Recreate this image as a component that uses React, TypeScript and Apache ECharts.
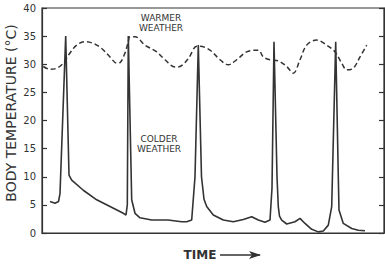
import React, { useEffect, useRef } from "react";
import * as echarts from "echarts";

// time (arbitrary units), body temperature (°C)
const colderTime = [8, 13, 16.5, 18, 23.7, 27, 29.7, 41.3, 54.7, 68, 81.3, 84, 85.3, 86.3, 89.7, 93, 98, 109.7, 126, 139.7, 144.7, 149.7, 153, 156.3, 159.5, 162, 164.7, 171.3, 181.3, 191.3, 201.3, 209.7, 216.3, 223, 228, 230, 232, 235, 236.3, 237.5, 239.7, 244.7, 253, 258, 263, 269.7, 276.3, 281.3, 286.3, 289.7, 293.7, 296.3, 297, 301.3, 309.7, 316.3, 323];
const colderTemp = [5.6, 5.3, 5.6, 7, 35, 10.3, 9.4, 7.6, 5.9, 4.7, 3.5, 3.2, 5, 35, 5.9, 3.5, 2.7, 2.3, 2.3, 2.0, 2.0, 2.3, 10, 33.4, 10, 6, 4.7, 3.2, 2.3, 2.0, 2.4, 2.9, 2.3, 1.9, 2.3, 8, 34, 10, 4.7, 3, 2.3, 1.6, 2.0, 2.6, 1.7, 0.65, 0.2, 0.35, 1.4, 4.7, 34, 10, 4.1, 1.7, 0.8, 0.5, 0.4];

const warmerTime = [1.3, 8, 14.7, 21.3, 28, 34.7, 43, 51.3, 59.7, 68, 74.7, 78, 83, 86.3, 88, 93, 103, 114.7, 123, 133, 138, 146.3, 154.7, 158, 168, 178, 186.3, 194.7, 204.7, 216.3, 221.3, 228, 236.3, 244.7, 251.3, 258, 264.7, 274.7, 284.7, 293, 299.7, 304.7, 311.3, 318, 324.7];
const warmerTemp = [29.6, 29.1, 29.3, 30.2, 32, 33.4, 34, 33.7, 32.8, 31.3, 30.2, 30.3, 32, 34, 34.9, 34.9, 33.4, 32.2, 30.8, 29.5, 29.6, 31, 33.2, 33.2, 32.5, 30.8, 29.9, 30.8, 32.2, 32.5, 31.3, 30.8, 30.6, 29.6, 28.4, 30.8, 33.4, 34.3, 33.4, 32.2, 30.2, 29, 29.3, 31.3, 33.4];

const yTicks = [0, 5, 10, 15, 20, 25, 30, 35, 40];
const yAxisTitle = "BODY TEMPERATURE (°C)";
const xAxisTitle = "TIME";
const warmerLabel = "WARMER\nWEATHER";
const colderLabel = "COLDER\nWEATHER";

const INK = "#333";
const FONT = "DejaVu Sans";

export default function App() {
  const ref = useRef<HTMLDivElement>(null);
  useEffect(() => {
    if (!ref.current) return;
    const chart = echarts.init(ref.current, undefined, { renderer: "svg" });
    const colder = colderTime.map((t, i) => [t, colderTemp[i]]);
    const warmer = warmerTime.map((t, i) => [t, warmerTemp[i]]);
    const yAxisBase = {
      type: "value" as const,
      min: yTicks[0],
      max: yTicks[yTicks.length - 1],
      interval: 5,
      axisLine: { show: true, lineStyle: { color: INK, width: 1.2 } },
      axisTick: { show: true, inside: true, length: 5, lineStyle: { color: INK, width: 1.2 } },
      splitLine: { show: false },
    };
    chart.setOption({
      animation: false,
      backgroundColor: "#fff",
      grid: { left: 42, right: 1, top: 8, bottom: 33, show: true, borderColor: INK, borderWidth: 1.2 },
      xAxis: {
        type: "value",
        min: 0,
        max: 342,
        axisLine: { show: true, lineStyle: { color: INK, width: 1.2 } },
        axisTick: { show: false },
        axisLabel: { show: false },
        splitLine: { show: false },
      },
      yAxis: [
        {
          ...yAxisBase,
          position: "left",
          axisLabel: { show: true, color: INK, fontFamily: FONT, fontSize: 10, margin: 6 },
        },
        {
          ...yAxisBase,
          position: "right",
          axisLabel: { show: false },
        },
      ],
      series: [
        {
          type: "line",
          data: colder,
          showSymbol: false,
          smooth: false,
          lineStyle: { color: INK, width: 1.6 },
          z: 3,
        },
        {
          type: "line",
          data: warmer,
          showSymbol: false,
          smooth: 0.35,
          lineStyle: { color: INK, width: 1.5, type: [5, 3] },
          z: 2,
        },
      ],
      graphic: [
        {
          type: "text",
          x: 11,
          y: 113,
          rotation: Math.PI / 2,
          style: {
            text: yAxisTitle,
            fill: INK,
            font: `14px ${FONT}`,
            align: "center",
            verticalAlign: "middle",
          },
        },
        {
          type: "text",
          x: 161,
          y: 23,
          style: {
            text: warmerLabel,
            fill: INK,
            font: `9px ${FONT}`,
            align: "center",
            verticalAlign: "middle",
            lineHeight: 10,
          },
        },
        {
          type: "text",
          x: 159,
          y: 144,
          style: {
            text: colderLabel,
            fill: INK,
            font: `9px ${FONT}`,
            align: "center",
            verticalAlign: "middle",
            lineHeight: 10.5,
          },
        },
        {
          type: "text",
          x: 200,
          y: 255,
          style: {
            text: xAxisTitle,
            fill: INK,
            font: `bold 12px ${FONT}`,
            align: "center",
            verticalAlign: "middle",
          },
        },
        {
          type: "line",
          shape: { x1: 220, y1: 255, x2: 260, y2: 255 },
          style: { stroke: INK, lineWidth: 1.3 },
        },
        {
          type: "polygon",
          shape: { points: [[261, 255], [249, 251], [252, 255], [249, 259]] },
          style: { fill: INK },
        },
      ],
    });
    return () => chart.dispose();
  }, []);
  return <div ref={ref} style={{ position: "fixed", left: 0, top: 0, width: 385, height: 266 }} />;
}
